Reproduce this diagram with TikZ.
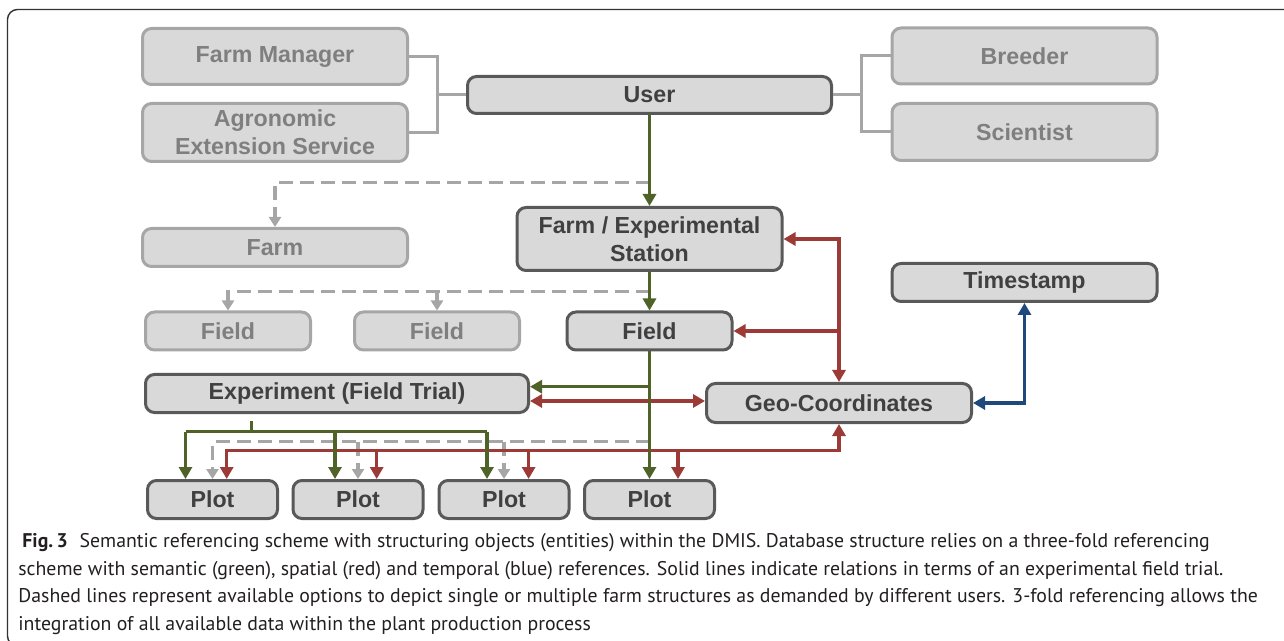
\documentclass[tikz,border=0pt]{standalone}
\usepackage{fontspec}
\setmainfont{Liberation Sans}
\newfontfamily\capfont{PT Sans}
\usetikzlibrary{arrows.meta}
\definecolor{boxfill}{HTML}{D9D9D9}
\definecolor{darkline}{HTML}{595959}
\definecolor{darktext}{HTML}{404040}
\definecolor{grayline}{HTML}{A6A6A6}
\definecolor{graytext}{HTML}{7F7F7F}
\definecolor{semgreen}{HTML}{4F6228}
\definecolor{spatred}{HTML}{9B3A37}
\definecolor{tempblue}{HTML}{1F497D}
\definecolor{capcol}{HTML}{231F20}
\begin{document}
\begin{tikzpicture}[x=0.5pt,y=-0.5pt,
    box/.style={draw=darkline,fill=boxfill,line width=1.5pt,rounded corners=4.5pt,
      text=darktext,font=\fontsize{11.6}{14}\selectfont\bfseries,align=center,
      inner sep=0pt,minimum width=132.5pt,minimum height=19pt},
    dimbox/.style={box,draw=grayline,text=graytext},
    sem/.style={draw=semgreen,line width=1.7pt,-{Triangle[length=6pt,width=6.5pt]}},
    spat/.style={draw=spatred,line width=1.7pt,-{Triangle[length=6pt,width=6.5pt]}},
    temp/.style={draw=tempblue,line width=1.7pt,-{Triangle[length=6pt,width=6.5pt]}},
    twoway/.style={arrows={Triangle[length=6pt,width=6.5pt]-Triangle[length=6pt,width=6.5pt]}},
    opt/.style={draw=grayline,line width=1.7pt,dash pattern=on 7pt off 3.5pt,
      -{Triangle[length=5pt,width=6pt]}},
    usrline/.style={draw=grayline,line width=1.5pt},
    captxt/.style={anchor=base west,inner sep=0pt,text=capcol,
      font=\capfont\fontsize{9.9}{12}\selectfont}]
  \useasboundingbox (0,0) rectangle (1284,641);
  \draw[black!80,line width=0.7pt,rounded corners=5pt]
    (1300,9.5) -- (7.5,9.5) -- (7.5,646) -- (40,646);
  \draw
    (275,56.5) node[dimbox,minimum height=28pt] (FarmManager){Farm Manager}
    (275,132.5) node[dimbox,minimum height=29pt] (Agronomic){Agronomic\\Extension Service}
    (649.5,95) node[box,minimum width=182pt,minimum height=18.5pt] (User){User}
    (1024.5,56) node[dimbox,minimum height=28pt] (Breeder){Breeder}
    (1024.5,132) node[dimbox,minimum height=28.5pt] (Scientist){Scientist}
    (275,247.5) node[dimbox] (Farm){Farm}
    (649.5,239) node[box,minimum height=31.5pt] (FarmStation){Farm / Experimental\\Station}
    (1024.5,282.5) node[box] (Timestamp){Timestamp}
    (228,331) node[dimbox,minimum width=82.5pt] (Field1){Field}
    (437,331) node[dimbox,minimum width=82.5pt] (Field2){Field}
    (649.5,331) node[box,minimum width=82.5pt] (Field){Field}
    (337,393.5) node[box,minimum width=191.5pt] (Experiment){Experiment (Field Trial)}
    (839,403) node[box,minimum height=19.5pt] (GeoCoordinates){Geo-Coordinates}
    (212.5,499.5) node[box,minimum width=65pt] (Plot1){Plot}
    (358,499.5) node[box,minimum width=65pt] (Plot2){Plot}
    (504,499.5) node[box,minimum width=65pt] (Plot3){Plot}
    (649.5,499.5) node[box,minimum width=65pt] (Plot4){Plot};
  \coordinate (jl) at (437,95);
  \coordinate (jr) at (861,95);
  \coordinate (d1) at (649.5,182.7);
  \coordinate (d2) at (649.5,291.7);
  \coordinate (d3) at (649.5,441.7);
  \coordinate (g1) at (649.5,386.7);
  \coordinate (g0) at (251.5,421);
  \coordinate (g2) at (251.5,431.7);
  \coordinate (gA) at (185.5,431.7);
  \coordinate (gB) at (335,431.7);
  \coordinate (gC) at (487,431.7);
  \coordinate (r0) at (600,401);
  \coordinate (r2) at (839,331);
  \coordinate (rA) at (226.7,450.7);
  \coordinate (rB) at (376.7,450.7);
  \coordinate (rC) at (528.6,450.7);
  \coordinate (rD) at (678,450.7);
  \begin{scope}
    \draw[usrline] (FarmManager.east) -| (jl) |- (Agronomic.east);
    \draw[usrline] (jl) -- (User.west);
    \draw[usrline] (Breeder.west) -| (jr) |- (Scientist.west);
    \draw[usrline] (jr) -- (User.east);
    \draw[opt] (d1) -| (Farm.north);
    \draw[opt] (d2) -| (Field1.north);
    \draw[opt] (Field2.north |- d2) -- (Field2.north);
    \draw[opt] (d3) -| (Plot1.north);
    \draw[opt] (Plot2.north |- d3) -- (Plot2.north);
    \draw[opt] (Plot3.north |- d3) -- (Plot3.north);
    \draw[spat,twoway] (FarmStation.east) -| (GeoCoordinates.north);
    \draw[spat] (r2) -- (Field.east);
    \draw[spat,twoway] (Experiment.east |- r0) -- (GeoCoordinates.west |- r0);
    \draw[spat,twoway] (GeoCoordinates.south) |- (rA) -- (rA |- Plot1.north);
    \draw[spat] (rB) -- (rB |- Plot2.north);
    \draw[spat] (rC) -- (rC |- Plot3.north);
    \draw[spat] (rD) -- (rD |- Plot4.north);
    \draw[sem] (User) -- (FarmStation);
    \draw[sem] (FarmStation) -- (Field);
    \draw[sem] (Field) -- (Plot4);
    \draw[sem] (g1) -- (Experiment.east |- g1);
    \draw[sem,-] (g0) -- (g2);
    \draw[sem,-] (gA) -- (gC);
    \draw[sem] (gA) -- (gA |- Plot1.north);
    \draw[sem] (gB) -- (gB |- Plot2.north);
    \draw[sem] (gC) -- (gC |- Plot3.north);
    \draw[temp,twoway] (GeoCoordinates.east) -| (Timestamp.south);
  \end{scope}
  \node[captxt] (Cap1) at (22,547) {\textbf{Fig.\,3}\hspace{0.6em}Semantic referencing scheme with structuring objects (entities) within the DMIS. Database structure relies on a three-fold referencing};
  \node[captxt] (Cap2) at (18,575) {scheme with semantic (green), spatial (red) and temporal (blue) references. Solid lines indicate relations in terms of an experimental field trial.};
  \node[captxt] (Cap3) at (18,602) {Dashed lines represent available options to depict single or multiple farm structures as demanded by different users. 3-fold referencing allows the};
  \node[captxt] (Cap4) at (18,630) {integration of all available data within the plant production process};
\end{tikzpicture}
\end{document}
